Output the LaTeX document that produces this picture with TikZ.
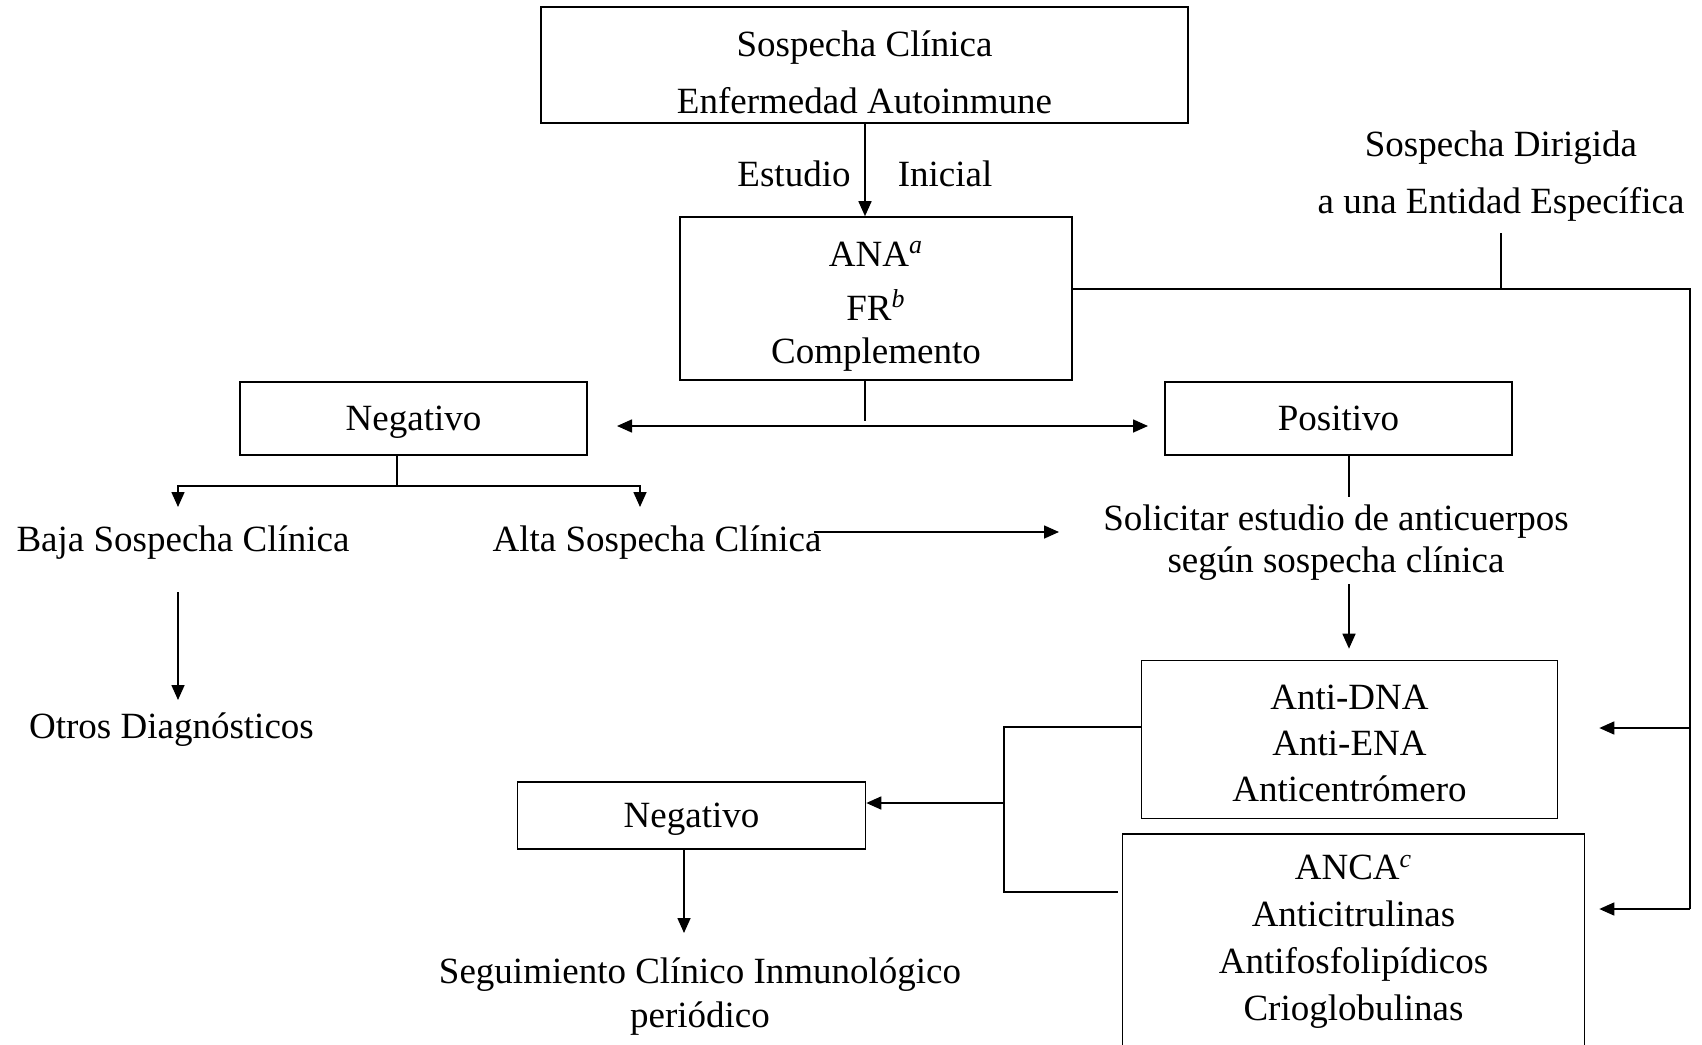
\documentclass[tikz,border=0pt]{standalone}
\usepackage{fontspec}
\setmainfont{Liberation Serif}
\usetikzlibrary{arrows.meta}
\tikzset{
  every node/.style={font=\fontsize{18.5pt}{23pt}\selectfont, inner sep=0pt},
  box/.style={draw, line width=0.8pt, align=center},
  conn/.style={line width=0.8pt},
  arr/.style={conn, -{Triangle[length=7.5pt,width=6.5pt]}},
  darr/.style={conn, {Triangle[length=7.5pt,width=6.5pt]}-{Triangle[length=7.5pt,width=6.5pt]}},
  lbl/.style={align=center}
}
\begin{document}
\begin{tikzpicture}[x=0.5pt,y=-0.5pt]
\useasboundingbox (0,0) rectangle (1702,1044);
% boxes
\node[box, minimum width=323.5pt, minimum height=58.25pt, font=\fontsize{18.5pt}{28.5pt}\selectfont] (top) at (864.5,65) {\rule{0pt}{19.8pt}Sospecha Clínica\\Enfermedad Autoinmune};
\node[box, minimum width=196pt, minimum height=81.5pt, text depth=0pt, font=\fontsize{18.5pt}{21.5pt}\selectfont] (ana) at (876,298.5) {\rule{0pt}{16.5pt}ANA\textsuperscript{\itshape a}\\[5.5pt]FR\textsuperscript{\itshape b}\\Complemento};
\node[box, minimum width=173.5pt, minimum height=36.5pt, text depth=0pt] (neg1) at (413.5,418.5) {Negativo};
\node[box, minimum width=173.5pt, minimum height=36.5pt] (pos) at (1338.5,418.5) {Positivo};
\node[box, minimum width=208pt, minimum height=79pt, font=\fontsize{18.5pt}{23pt}\selectfont] (dna) at (1349.5,739.5) {\rule{0pt}{16.6pt}Anti-DNA\\Anti-ENA\\Anticentrómero};
\node[box, minimum width=231pt, minimum height=108pt, font=\fontsize{18.5pt}{23.5pt}\selectfont] (anca) at (1353.5,942) {ANCA\textsuperscript{\itshape c}\\Anticitrulinas\\Antifosfolipídicos\\Crioglobulinas};
\node[box, minimum width=174pt, minimum height=33.5pt, text depth=-1.5pt] (neg2) at (691.5,815.5) {Negativo};
% plain labels
\node (est) at (794,174) {Estudio};
\node (ini) at (945,174) {Inicial};
\node[lbl, font=\fontsize{18.5pt}{28.5pt}\selectfont] (sd) at (1501,176) {Sospecha Dirigida\\a una Entidad Específica};
\node (baja) at (183,543) {Baja Sospecha Clínica};
\node (alta) at (657,543) {Alta Sospecha Clínica};
\node[lbl, font=\fontsize{18.5pt}{21pt}\selectfont] (sol) at (1336,542.5) {Solicitar estudio de anticuerpos\\según sospecha clínica};
\node (otros) at (171.5,729.5) {Otros Diagnósticos};
\node[lbl, font=\fontsize{18.5pt}{22pt}\selectfont] (seg) at (700,996.5) {Seguimiento Clínico Inmunológico\\periódico};
% coordinates
\coordinate (xa) at (865,0);
\coordinate (stem) at (865,421);
\coordinate (dl) at (617,426);
\coordinate (dr) at (1148,426);
\coordinate (rj) at (1501,289);
\coordinate (rc) at (1690,289);
\coordinate (rm) at (1690,728);
\coordinate (rb) at (1690,909);
\coordinate (sdb) at (1501,233);
\coordinate (nb) at (397,486);
\coordinate (bt) at (178,507);
\coordinate (at) at (640,507);
\coordinate (aa) at (814,532);
\coordinate (ab) at (1059,532);
\coordinate (ps) at (1349,497);
\coordinate (sa) at (1349,584);
\coordinate (ba) at (178,592);
\coordinate (bo) at (178,700);
\coordinate (lx) at (1004,727);
\coordinate (lm) at (1004,803);
\coordinate (ly) at (1004,892);
\coordinate (na) at (684,933);
% connectors
\draw[arr] (top.south -| xa) -- (ana.north -| xa);
\draw[conn] (ana.south -| xa) -- (stem);
\draw[darr] (dl) -- (dr);
\draw[conn] (sdb) -- (rj);
\draw[conn] (ana.east |- rj) -- (rc) -- (rb);
\draw[arr, shorten >=20.5pt] (rm) -- (dna.east |- rm);
\draw[arr, shorten >=7pt] (rb) -- (anca.east |- rb);
\draw[conn] (neg1.south -| nb) -- (nb);
\draw[arr] (nb) -| (bt);
\draw[arr] (nb) -| (at);
\draw[arr] (aa) -- (ab);
\draw[conn] (pos.south -| ps) -- (ps);
\draw[arr, shorten >=5.5pt] (sa) -- (dna.north -| sa);
\draw[arr] (ba) -- (bo);
\draw[conn] (dna.west |- lx) -- (lx) -- (ly) -- ([xshift=-2pt]anca.west |- ly);
\draw[arr] (lm) -- (neg2.east |- lm);
\draw[arr] (neg2.south -| na) -- (na);
\end{tikzpicture}
\end{document}
